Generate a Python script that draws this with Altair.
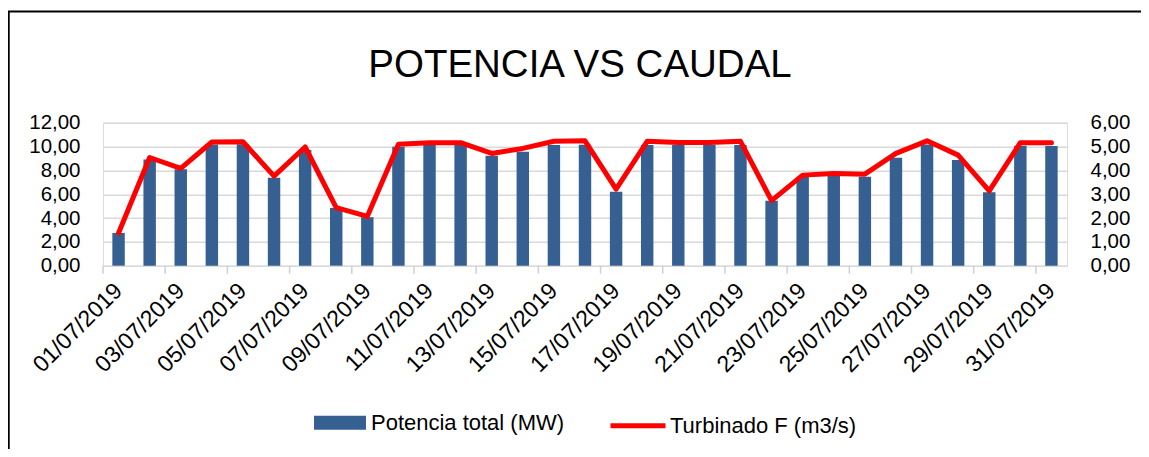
import altair as alt
import pandas as pd

fechas = ["01/07/2019", "02/07/2019", "03/07/2019", "04/07/2019", "05/07/2019",
          "06/07/2019", "07/07/2019", "08/07/2019", "09/07/2019", "10/07/2019",
          "11/07/2019", "12/07/2019", "13/07/2019", "14/07/2019", "15/07/2019",
          "16/07/2019", "17/07/2019", "18/07/2019", "19/07/2019", "20/07/2019",
          "21/07/2019", "22/07/2019", "23/07/2019", "24/07/2019", "25/07/2019",
          "26/07/2019", "27/07/2019", "28/07/2019", "29/07/2019", "30/07/2019",
          "31/07/2019"]

potencia = [2.75, 8.92, 8.10, 10.18, 10.20, 7.38, 9.70, 4.85, 4.07, 9.98,
            10.18, 10.18, 9.23, 9.57, 10.13, 10.15, 6.20, 10.13, 10.13, 10.13,
            10.13, 5.44, 7.46, 7.52, 7.46, 9.06, 10.18, 8.86, 6.17, 10.07,
            10.04]

turbinado = [1.37, 4.54, 4.08, 5.19, 5.20, 3.76, 4.98, 2.44, 2.07, 5.10,
             5.16, 5.16, 4.71, 4.92, 5.22, 5.24, 3.21, 5.22, 5.17, 5.17,
             5.22, 2.73, 3.80, 3.87, 3.84, 4.71, 5.24, 4.64, 3.14, 5.16,
             5.16]

etiquetas_x = fechas[::2]
ticks_izq = [0, 2, 4, 6, 8, 10, 12]
ticks_der = [0, 1, 2, 3, 4, 5, 6]

titulo = "POTENCIA VS CAUDAL"
serie_p = "Potencia total (MW)"
serie_t = "Turbinado F (m3/s)"

df = pd.DataFrame({
    "fecha": fechas,
    "dia": list(range(1, len(fechas) + 1)),
    "potencia": potencia,
    "turbinado": turbinado,
    "serie_p": serie_p,
    "serie_t": serie_t,
})

W = 964
H = 143
step = W / len(fechas)
FONT = "Liberation Sans"
fmt = "replace(format(datum.value, '.2f'), '.', ',')"

x_enc = alt.X(
    "fecha:N",
    sort=fechas,
    scale=alt.Scale(paddingInner=0.6, paddingOuter=0.3),
    axis=alt.Axis(
        values=etiquetas_x, labelAngle=-45, labelAlign="right",
        labelBaseline="middle", ticks=False, domain=False, grid=False,
        labelPadding=21, labelFont=FONT, labelFontSize=23,
        labelColor="#000000", title=None,
    ),
)

base = alt.Chart(df).encode(x=x_enc)

bars = base.mark_bar(color="#376092").encode(
    y=alt.Y(
        "potencia:Q",
        scale=alt.Scale(domain=[0, 12], nice=False),
        axis=alt.Axis(
            values=ticks_izq, labelExpr=fmt, ticks=False, domain=False,
            grid=True, gridColor="#d9d9d9", gridWidth=1.5,
            labelPadding=23, labelFont=FONT, labelFontSize=20.5,
            labelColor="#000000", title=None,
        ),
    ),
    color=alt.Color(
        "serie_p:N",
        scale=alt.Scale(domain=[serie_p], range=["#376092"]),
        legend=alt.Legend(
            orient="none", legendX=211, legendY=274, title=None,
            symbolType="M-1,-0.27H1V0.27H-1Z", symbolSize=2704,
            symbolStrokeWidth=0, symbolOpacity=1, padding=0,
            labelFont=FONT, labelFontSize=22, labelColor="#000000",
            labelOffset=5, labelLimit=0,
        ),
    ),
)

ticks = base.transform_filter("datum.dia % 2 == 1").mark_rule(
    color="#d0d0d0", strokeWidth=1.5, xOffset=-step / 2
).encode(y=alt.value(H), y2=alt.value(H + 8))

line = base.mark_line(strokeWidth=5, strokeJoin="round", strokeCap="round").encode(
    y=alt.Y(
        "turbinado:Q",
        scale=alt.Scale(domain=[0, 6], nice=False),
        axis=alt.Axis(
            orient="right", values=ticks_der, labelExpr=fmt, ticks=False,
            domain=False, grid=False, labelPadding=23, labelFont=FONT,
            labelFontSize=20.5, labelColor="#000000", title=None,
        ),
    ),
    stroke=alt.Stroke(
        "serie_t:N",
        scale=alt.Scale(domain=[serie_t], range=["#ff0000"]),
        legend=alt.Legend(
            orient="none", legendX=505, legendY=273, title=None,
            symbolType="stroke", symbolSize=3025, symbolStrokeWidth=5,
            padding=0, labelFont=FONT, labelFontSize=22,
            labelColor="#000000", labelOffset=2, labelLimit=0,
        ),
    ),
)

titulo_txt = alt.Chart(pd.DataFrame({"t": [titulo]})).mark_text(
    font=FONT, fontSize=38.5, color="#000000", align="center",
    baseline="alphabetic",
).encode(text="t:N", x=alt.value(W / 2 - 5), y=alt.value(-45.7))

marco = alt.Chart(pd.DataFrame({"a": [0]})).mark_rect(
    fill=None, stroke="#000000", strokeWidth=2
).encode(
    x=alt.value(-94.3), x2=alt.value(1080),
    y=alt.value(-111.2), y2=alt.value(420),
)

chart = alt.layer(bars, ticks, line, titulo_txt, marco).resolve_scale(
    y="independent", color="independent", stroke="independent"
).properties(
    width=W, height=H,
    autosize=alt.AutoSizeParams(type="none"),
    padding={"left": 95, "top": 114.7, "right": 74, "bottom": 183},
).configure_view(stroke=None).configure(background="#ffffff")

chart.save("out.html", embed_options={"renderer": "svg", "actions": False})
